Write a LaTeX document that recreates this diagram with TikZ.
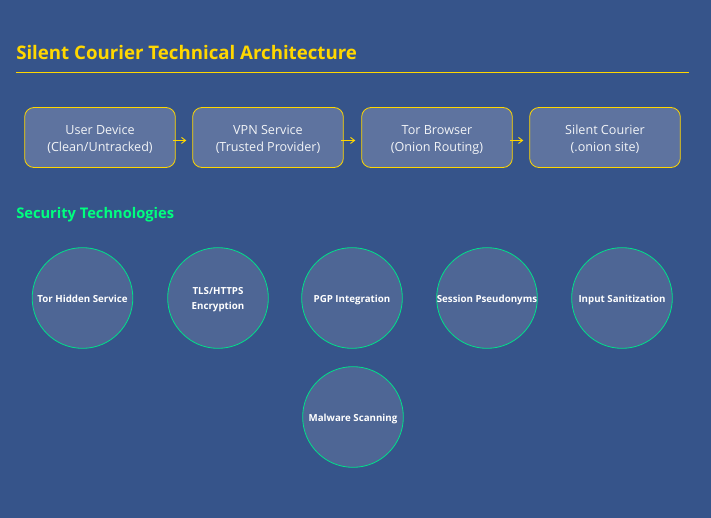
\documentclass[tikz,border=0pt]{standalone}
\usepackage{fontspec}
\setmainfont{Open Sans}
\usetikzlibrary{arrows.meta}
\definecolor{bgc}{HTML}{36548A}
\definecolor{gold}{HTML}{FFD700}
\definecolor{mint}{HTML}{00FF7F}
\definecolor{mintl}{HTML}{00E08A}
\definecolor{boxf}{HTML}{5E739F}
\definecolor{circf}{HTML}{4E6695}
\newcommand{\techlabel}[2][-3pt]{\raisebox{#1}[0pt][0pt]{#2}}
\newcommand{\twolines}[3][-2.6pt]{\raisebox{#1}[0pt][0pt]{\begin{tabular}{@{}c@{}}#2\\#3\end{tabular}}}
\tikzset{
  x=0.75pt,y=-0.75pt,
  flowbox/.style={draw=gold,line width=0.6pt,fill=boxf,rounded corners=7pt,minimum width=113pt,minimum height=45pt,inner sep=0pt,text=white!92!boxf,font=\fontsize{9.45pt}{12.75pt}\selectfont},
  tech/.style={circle,draw=mintl,line width=0.6pt,fill=circf,minimum size=75.5pt,inner sep=0pt,text=white,font=\fontsize{7.3pt}{10.6pt}\selectfont\bfseries},
  flowarrow/.style={draw=gold,line width=0.7pt,-{Straight Barb[length=3pt,width=4.5pt]},shorten <=-2pt,shorten >=4.5pt},
  heading/.style={anchor=base west,inner sep=0pt,font=\bfseries}
}
\begin{document}
\begin{tikzpicture}
\useasboundingbox (0,0) rectangle (711,518);
\fill[bgc] (0,0) rectangle (711,518);
\node[heading,text=gold,font=\fontsize{14pt}{16pt}\selectfont\bfseries] (title) at (16,59) {Silent Courier Technical Architecture};
\coordinate (ruleL) at (16,72.5);
\coordinate (ruleR) at (689,72.5);
\draw[gold,line width=0.75pt] (ruleL) -- (ruleR);
\node[flowbox] (user) at (100,137.5) {\twolines[-3.9pt]{User Device}{(Clean/Untracked)}};
\node[flowbox] (vpn) at (268,137.5) {\twolines[-3.9pt]{VPN Service}{(Trusted Provider)}};
\node[flowbox] (tor) at (437,137.5) {\twolines[-3.9pt]{Tor Browser}{(Onion Routing)}};
\node[flowbox] (site) at (605,137.5) {\twolines[-3.9pt]{Silent Courier}{(.onion site)}};
\draw[flowarrow] ([yshift=-2.2pt]user.east) -- ([yshift=-2.2pt]vpn.west);
\draw[flowarrow] ([yshift=-2.2pt]vpn.east) -- ([yshift=-2.2pt]tor.west);
\draw[flowarrow] ([yshift=-2.2pt]tor.east) -- ([yshift=-2.2pt]site.west);
\node[heading,text=mint,font=\fontsize{11pt}{13pt}\selectfont\bfseries] (sec) at (16,218) {Security Technologies};
\node[tech] (c1) at (82.5,298) {\techlabel{Tor Hidden Service}};
\node[tech] (c2) at (218,298) {\twolines{TLS/HTTPS}{Encryption}};
\node[tech] (c3) at (352,298) {\techlabel{PGP Integration}};
\node[tech] (c4) at (487,298) {\techlabel{Session Pseudonyms}};
\node[tech] (c5) at (622,298) {\techlabel{Input Sanitization}};
\node[tech] (c6) at (353,417) {\techlabel{Malware Scanning}};
\end{tikzpicture}
\end{document}
